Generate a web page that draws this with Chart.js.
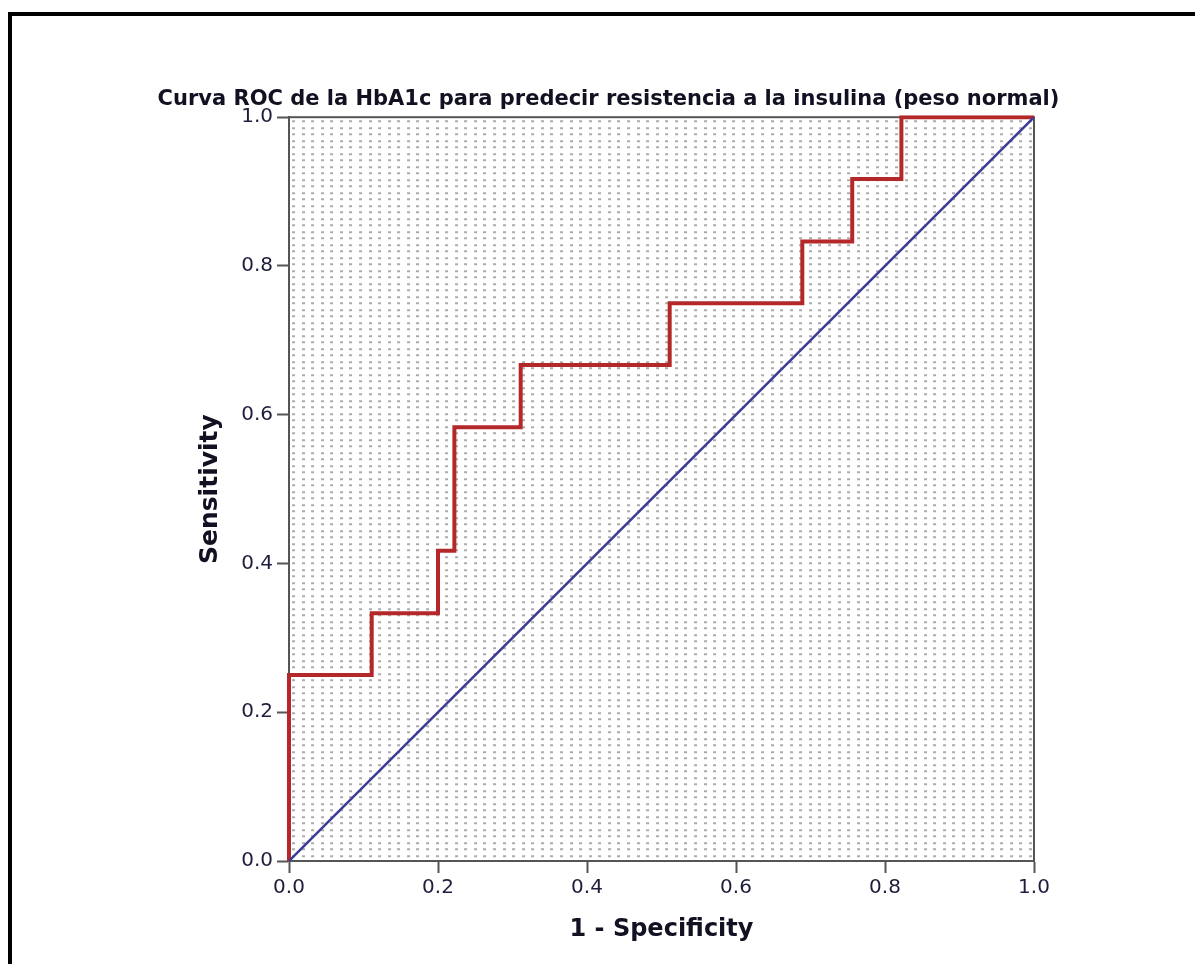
<!DOCTYPE html>
<html>
<head>
<meta charset="utf-8">
<script src="https://cdn.jsdelivr.net/npm/chart.js@4"></script>
<style>
  html, body { margin: 0; padding: 0; background: #fff; overflow: hidden; }
  #frame { position: absolute; left: 8px; top: 12px; width: 1400px; height: 1200px; border: 4px solid #000; box-sizing: border-box; }
  #chart1 { position: absolute; left: 0; top: 0; }
</style>
</head>
<body>
<div id="frame"></div>
<canvas id="chart1" width="1195" height="964"></canvas>
<script>
// ROC coordinates (1 - specificity, sensitivity), stepped
var fpr = [0, 0.111, 0.2, 0.222, 0.311, 0.511, 0.689, 0.756, 0.822, 1];
var tpr = [0, 0.25, 0.333, 0.417, 0.583, 0.667, 0.75, 0.833, 0.917, 1];
// reference line
var refX = [0, 1];
var refY = [0, 1];
var tickValues = [0, 0.2, 0.4, 0.6, 0.8, 1.0];

var rocPoints = fpr.map(function (x, i) { return { x: x, y: tpr[i] }; });
var refPoints = refX.map(function (x, i) { return { x: x, y: refY[i] }; });

// dotted background of the plot area
function makePattern() {
    var c = document.createElement('canvas');
    c.width = 67; c.height = 13;
    var g = c.getContext('2d');
    g.fillStyle = '#ababab';
    for (var i = 0; i < 7; i++) {
        for (var j = 0; j < 2; j++) {
            g.fillRect(Math.round(i * 67 / 7) + 3, Math.round(j * 6.5) + 3, 3, 2);
        }
    }
    return g.createPattern(c, 'repeat');
}

var bgPlugin = {
    id: 'bgPlugin',
    beforeDraw: function (chart) {
        var a = chart.chartArea, ctx = chart.ctx;
        ctx.save();
        ctx.fillStyle = '#ffffff';
        ctx.fillRect(a.left, a.top, a.right - a.left, a.bottom - a.top);
        ctx.translate(a.left, a.top);
        ctx.fillStyle = makePattern();
        ctx.fillRect(0, 0, a.right - a.left, a.bottom - a.top);
        ctx.restore();
    },
    beforeDatasetsDraw: function (chart) {
        var a = chart.chartArea, ctx = chart.ctx;
        ctx.save();
        ctx.strokeStyle = '#555555';
        ctx.lineWidth = 2;
        ctx.strokeRect(a.left, a.top, a.right - a.left, a.bottom - a.top);
        ctx.restore();
    }
};

var tickFont = { family: 'DejaVu Sans', size: 20 };
var tickColor = '#1e1e3c';

var myChart = new Chart(document.getElementById('chart1'), {
    type: 'line',
    data: {
        datasets: [
            {
                label: 'Reference',
                data: refPoints,
                borderColor: '#3c3c96',
                borderWidth: 2.5,
                pointRadius: 0,
                fill: false
            },
            {
                label: 'HbA1c',
                data: rocPoints,
                borderColor: '#b5282a',
                borderWidth: 4,
                pointRadius: 0,
                stepped: 'after',
                clip: 2,
                fill: false
            }
        ]
    },
    options: {
        responsive: false,
        animation: false,
        layout: { padding: { left: 22, right: 0, top: 0, bottom: 0 } },
        plugins: {
            legend: { display: false },
            tooltip: { enabled: false },
            title: {
                display: true,
                text: 'Curva ROC de la HbA1c para predecir resistencia a la insulina (peso normal)',
                font: { family: 'DejaVu Sans', size: 21, weight: 'bold' },
                color: '#111122',
                padding: { top: 87, bottom: 5 }
            }
        },
        scales: {
            x: {
                type: 'linear',
                min: 0,
                max: 1,
                afterBuildTicks: function (s) { s.ticks = tickValues.map(function (v) { return { value: v }; }); },
                afterFit: function (s) { s.height = 103; },
                ticks: {
                    font: tickFont,
                    color: tickColor,
                    padding: 3,
                    maxRotation: 0,
                    callback: function (v) { return v.toFixed(1); }
                },
                grid: { display: true, drawOnChartArea: false, tickLength: 12, tickWidth: 2, tickColor: '#555555' },
                border: { display: true, color: '#555555', width: 2 },
                title: {
                    display: true,
                    text: '1 - Specificity',
                    font: { family: 'DejaVu Sans', size: 24, weight: 'bold' },
                    color: '#111122',
                    padding: { top: 0, bottom: 20 }
                }
            },
            y: {
                type: 'linear',
                min: 0,
                max: 1,
                afterBuildTicks: function (s) { s.ticks = tickValues.map(function (v) { return { value: v }; }); },
                afterFit: function (s) { s.width = 267; },
                ticks: {
                    font: tickFont,
                    color: tickColor,
                    padding: 4,
                    callback: function (v) { return v.toFixed(1); }
                },
                grid: { display: true, drawOnChartArea: false, tickLength: 12, tickWidth: 2, tickColor: '#555555' },
                border: { display: true, color: '#555555', width: 2 },
                title: {
                    display: true,
                    text: 'Sensitivity',
                    font: { family: 'DejaVu Sans', size: 25, weight: 'bold' },
                    color: '#111122',
                    padding: { top: 173, bottom: 0 }
                }
            },
            y2: {
                type: 'linear',
                position: 'right',
                min: 0,
                max: 1,
                afterFit: function (s) { s.width = 161; },
                ticks: { display: false },
                grid: { display: false, drawTicks: false },
                border: { display: false }
            }
        }
    },
    plugins: [bgPlugin]
});
</script>
</body>
</html>
